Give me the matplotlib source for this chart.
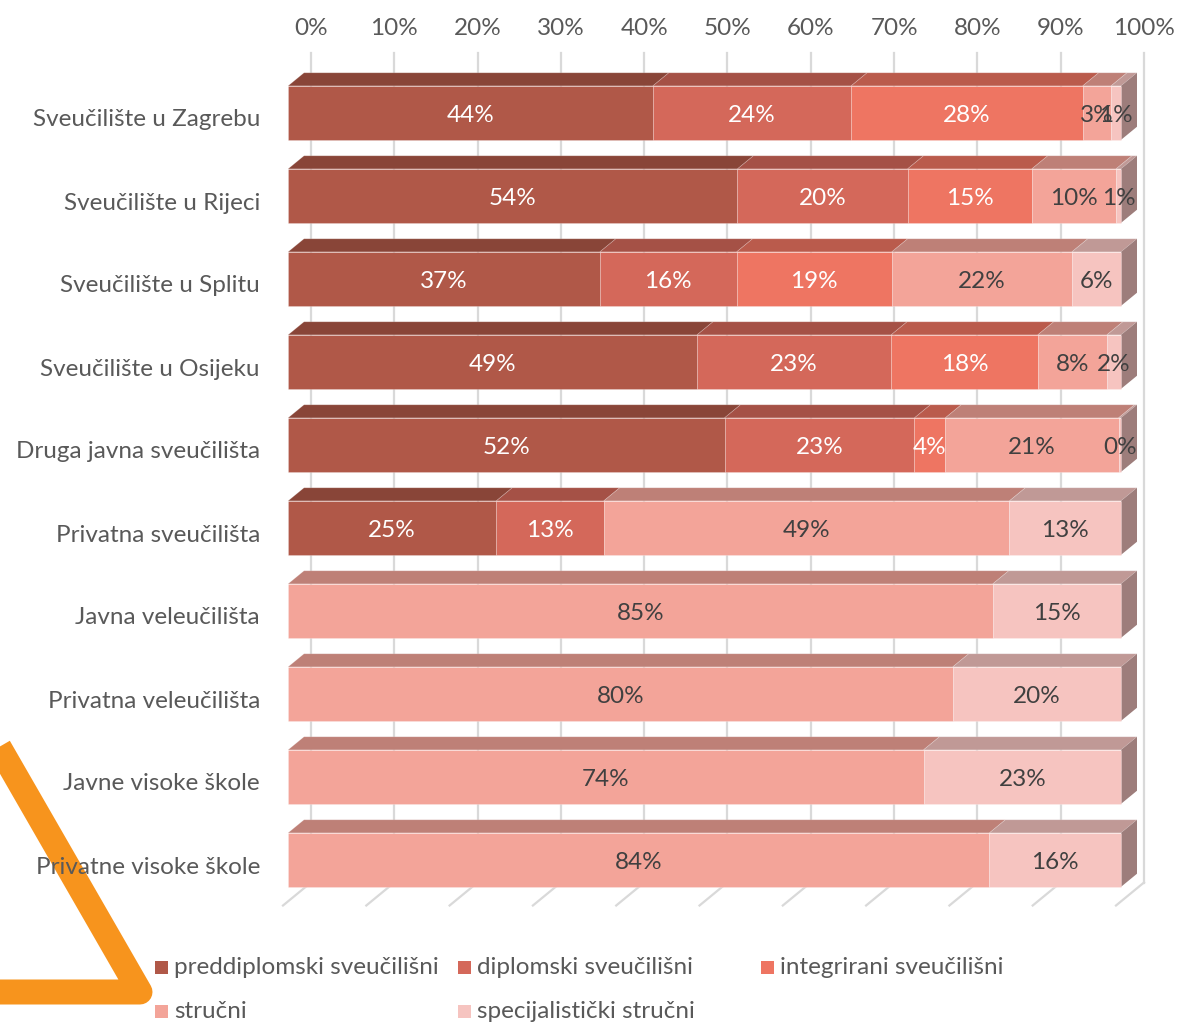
import numpy as np
import matplotlib.pyplot as plt
from matplotlib.patches import Polygon, Rectangle
from matplotlib.lines import Line2D
from matplotlib.colors import to_rgb

plt.rcParams['font.family'] = ['Lato', 'DejaVu Sans']

categories = ["Sveučilište u Zagrebu", "Sveučilište u Rijeci", "Sveučilište u Splitu",
              "Sveučilište u Osijeku", "Druga javna sveučilišta", "Privatna sveučilišta",
              "Javna veleučilišta", "Privatna veleučilišta", "Javne visoke škole",
              "Privatne visoke škole"]
series_names = ["preddiplomski sveučilišni", "diplomski sveučilišni",
                "integrirani sveučilišni", "stručni", "specijalistički stručni"]

nan = np.nan
preddiplomski = [43.8, 53.9, 37.4, 49.1, 52.4, 25.0, nan, nan, nan, nan]
diplomski = [23.8, 20.4, 16.4, 23.3, 22.8, 12.9, nan, nan, nan, nan]
integrirani = [27.8, 14.9, 18.6, 17.6, 3.7, nan, nan, nan, nan, nan]
strucni = [3.4, 10.1, 21.6, 8.3, 20.8, 48.7, 84.6, 79.8, 74.0, 84.2]
specijalisticki = [1.2, 0.6, 5.9, 1.7, 0.3, 13.4, 15.4, 20.2, 23.0, 15.8]

ticks = list(range(0, 101, 10))

values = np.array([preddiplomski, diplomski, integrirani, strucni, specijalisticki])
face_colors = ['#B05848', '#D4685A', '#EE7562', '#F3A499', '#F6C4C0']
label_colors = ['#FFFFFF', '#FFFFFF', '#FFFFFF', '#404040', '#404040']
grid_color = '#D9D9D9'
text_color = '#595959'
FS = 17.5


def shade(c, f):
    r, g, b = to_rgb(c)
    return (r * f, g * f, b * f)


W, H = 1179, 1023
fig = plt.figure(figsize=(W / 100, H / 100), dpi=100)
ax = fig.add_axes([0, 0, 1, 1])

# geometry of the oblique 3D projection (pixels)
X0, PX_X = 283, 8.33   # 0% on the floor front, px per percent
Y0, PX_Y = 117, 83.0   # first category on the floor front, px per row
ax.set_xlim(-X0 / PX_X, (W - X0) / PX_X)
ax.set_ylim((H - Y0) / PX_Y, -Y0 / PX_Y)
ax.axis('off')

DX, DY = 28 / PX_X, -23 / PX_Y   # full depth vector
D_FRONT, D_BACK = 0.18, 0.75
BAR_H = 0.65
TXT_DY = 3 / PX_Y   # nudge text down so digits sit centred
n = len(categories)
y_top, y_bot = -0.5, n - 0.5


def proj(x, y, d):
    return x + d * DX, y + d * DY


# back wall gridlines and floor lines
for t in ticks:
    (xa, ya), (xb, yb) = proj(t, y_top, 1), proj(t, y_bot, 1)
    ax.plot([xa, xb], [ya, yb], color=grid_color, lw=1.6, zorder=1)
    (xc, yc) = proj(t, y_bot, 0)
    ax.plot([xc, xb], [yc, yb], color=grid_color, lw=1.6, zorder=1)
    ax.text(xa, ya - 0.33 + TXT_DY, f'{t}%', ha='center', va='center',
            fontsize=FS, color=text_color)

# bars
for i, cat in enumerate(categories):
    col = values[:, i]
    total = np.nansum(col)
    left = 0.0
    last = None
    top = i - BAR_H / 2
    bot = i + BAR_H / 2
    for s in range(len(series_names)):
        v = col[s]
        if np.isnan(v):
            continue
        w = v / total * 100
        right = left + w
        tf = [proj(left, top, D_FRONT), proj(right, top, D_FRONT),
              proj(right, top, D_BACK), proj(left, top, D_BACK)]
        ax.add_patch(Polygon(tf, closed=True, facecolor=shade(face_colors[s], 0.78),
                             edgecolor=(1, 1, 1, 0.2), lw=0.6, zorder=2))
        fx, fy = proj(left, top, D_FRONT)
        ax.add_patch(Rectangle((fx, fy), w, BAR_H, facecolor=face_colors[s],
                               edgecolor=(1, 1, 1, 0.25), lw=0.6, zorder=3))
        cx, cy = proj((left + right) / 2, i, D_FRONT)
        ax.text(cx, cy + TXT_DY, f'{v:.0f}%', ha='center', va='center', fontsize=FS,
                color=label_colors[s], zorder=5)
        last = s
        left = right
    sf = [proj(100, top, D_FRONT), proj(100, bot, D_FRONT),
          proj(100, bot, D_BACK), proj(100, top, D_BACK)]
    ax.add_patch(Polygon(sf, closed=True, facecolor=shade(face_colors[last], 0.64),
                         edgecolor='none', zorder=2))
    ax.text(-23 / PX_X, i + TXT_DY, cat, ha='right', va='center', fontsize=FS,
            color=text_color, zorder=5)

# legend (row-wise like the original)
leg_x = [155, 458, 761]
leg_y = [967, 1011]
for k, name in enumerate(series_names):
    lx, ly = leg_x[k % 3], leg_y[k // 3]
    ax.add_patch(Rectangle((lx / W, 1 - (ly + 7) / H), 13 / W, 13 / H,
                           transform=fig.transFigure, facecolor=face_colors[k],
                           edgecolor='none', clip_on=False, zorder=5))
    fig.text((lx + 19) / W, 1 - (ly + 1) / H, name, ha='left', va='center',
             fontsize=FS, color=text_color, zorder=5)

# orange triangle decoration
tri_x = [-100, 140, -30]
tri_y = [575, 992, 992]
ax.add_line(Line2D([x / W for x in tri_x], [1 - y / H for y in tri_y],
                   transform=fig.transFigure, color='#F7941D', lw=18,
                   solid_joinstyle='round', solid_capstyle='butt',
                   clip_on=False, zorder=1.5))

fig.savefig('out.png', dpi=100)
